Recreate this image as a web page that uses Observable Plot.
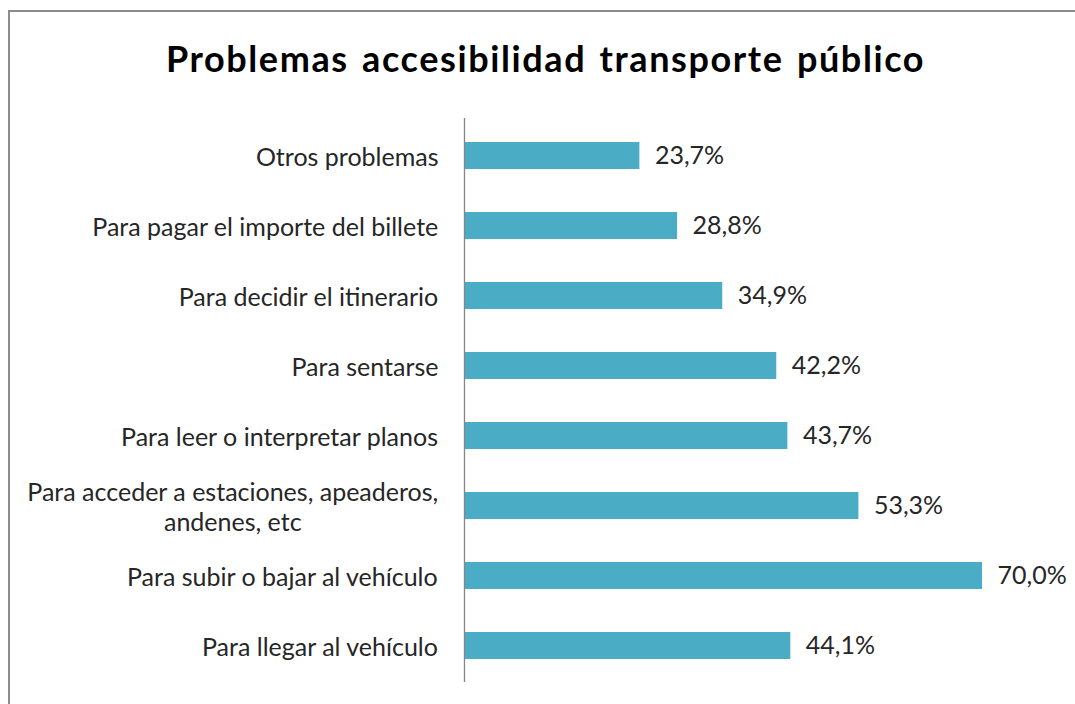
<!DOCTYPE html>
<html>
<head>
<meta charset="utf-8">
<script src="https://cdn.jsdelivr.net/npm/d3@7"></script>
<script src="https://cdn.jsdelivr.net/npm/@observablehq/plot@0.6"></script>
<style>
  html, body { margin: 0; padding: 0; background: #fff; width: 1075px; height: 704px; overflow: hidden; }
  #frame { position: absolute; left: 8px; top: 10px; width: 1200px; height: 800px; border: 2px solid #8c8c8c; box-sizing: border-box; }
  #title { position: absolute; left: 0; top: 36px; width: 1091px; text-align: center; font-family: Lato, sans-serif; font-weight: bold; font-size: 36px; letter-spacing: 1.6px; word-spacing: 3px; line-height: 44px; color: #000; }
  #chart { position: absolute; left: 0; top: 100px; }
</style>
</head>
<body>
<div id="frame"></div>
<div id="title">Problemas accesibilidad transporte público</div>
<div id="chart"></div>
<script>
const categories = [
  "Otros problemas",
  "Para pagar el importe del billete",
  "Para decidir el itinerario",
  "Para sentarse",
  "Para leer o interpretar planos",
  "Para acceder a estaciones, apeaderos,\nandenes, etc",
  "Para subir o bajar al vehículo",
  "Para llegar al vehículo"
];
const values = [23.7, 28.8, 34.9, 42.2, 43.7, 53.3, 70.0, 44.1];

const FONT_FAMILY = "Lato, sans-serif";
const FONT = "25px Lato";
const ctx = document.createElement("canvas").getContext("2d");
ctx.font = FONT;
const lineWidth = s => Math.max(...s.split("\n").map(l => ctx.measureText(l).width));

const data = categories.map((c, i) => ({category: c, value: values[i], w: lineWidth(c)}));
const fmt = v => v.toFixed(1).replace(".", ",") + "%";

const GAP = 26;
const plot = Plot.plot({
  width: 1075,
  height: 600,
  marginLeft: 464,
  marginRight: 93,
  marginTop: 18,
  marginBottom: 18,
  style: {fontFamily: FONT_FAMILY, fontSize: "25px", color: "#262626", background: "transparent"},
  x: {domain: [0, 70], axis: null},
  y: {domain: categories, axis: null, paddingInner: 0.615, paddingOuter: 0.3075},
  marks: [
    Plot.barX(data, {x: "value", y: "category", fill: "#4BACC6"}),
    Plot.ruleX([0], {stroke: "#868686", strokeWidth: 1.3}),
    Plot.text(data, {x: "value", y: "category", text: d => fmt(d.value), textAnchor: "start", dx: 15, fill: "#262626"}),
    ...data.map(d => Plot.text([d], {
      x: () => 0, y: "category", text: "category",
      textAnchor: "middle", dx: -GAP - d.w / 2, lineHeight: 1.2, fill: "#262626"
    }))
  ]
});
document.getElementById("chart").appendChild(plot);
</script>
</body>
</html>
